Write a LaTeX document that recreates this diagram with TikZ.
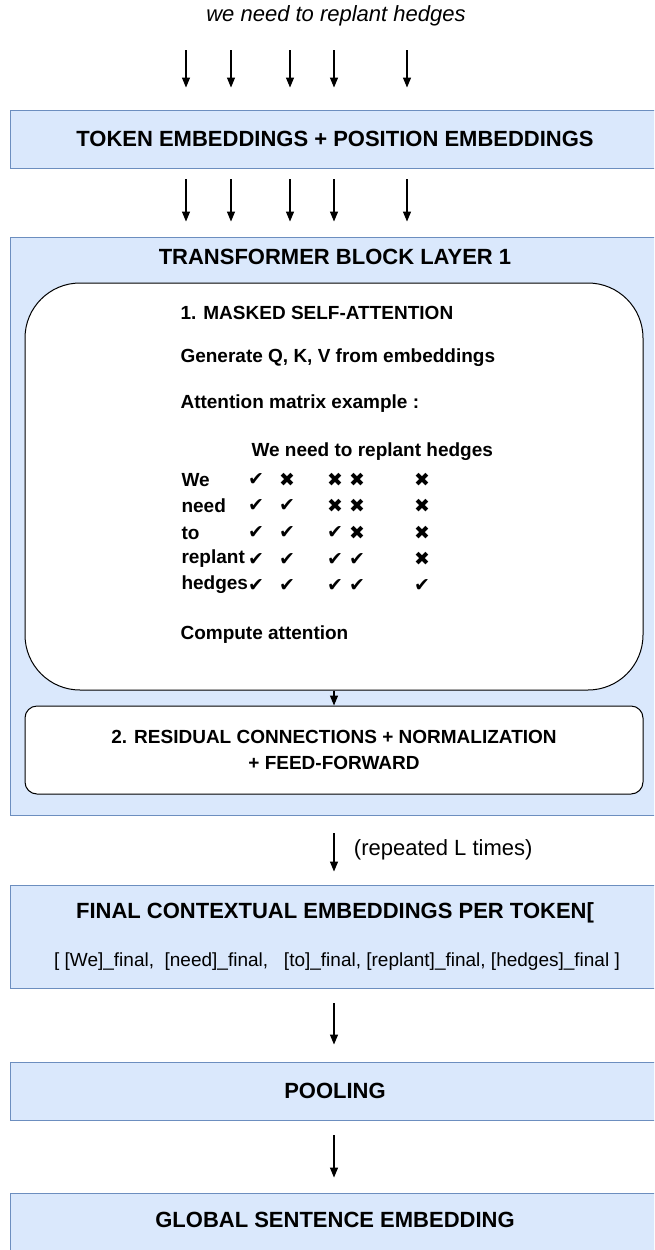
\documentclass[tikz,border=0pt]{standalone}
\usepackage{fontspec}
\setmainfont{Liberation Sans}
\newfontfamily\symfont{DejaVu Sans}
\usetikzlibrary{arrows.meta}
\definecolor{boxfill}{HTML}{DAE8FC}
\definecolor{boxline}{HTML}{6C8EBF}
\tikzset{
  bluebox/.style={draw=boxline,fill=boxfill,line width=0.9pt,minimum width=650pt,inner sep=0pt},
  whitebox/.style={draw=black,fill=white,line width=1pt,minimum width=618pt,inner sep=0pt},
  big/.style={font=\fontsize{22}{26}\selectfont},
  small/.style={font=\fontsize{19}{23}\selectfont},
  arr/.style={-{Triangle[length=10pt,width=8pt]},line width=1.2pt},
}
\begin{document}
\begin{tikzpicture}[x=1pt,y=-1pt]
\clip (0,0) rectangle (654,1250);
\fill[white] (0,0) rectangle (654,1250);

\node[big,font=\fontsize{22}{26}\selectfont\itshape] (sent) at (336,16){we need to replant hedges};

\node[bluebox,minimum height=58pt] (tok) at (335,139){};
\node[big,font=\fontsize{22}{26}\selectfont\bfseries] at (tok){TOKEN EMBEDDINGS + POSITION EMBEDDINGS};

\node[bluebox,minimum height=578pt] (tfm) at (335,526){};
\node[big,font=\fontsize{22}{26}\selectfont\bfseries] (tfmt) at (335,257){TRANSFORMER BLOCK LAYER 1};

\node[whitebox,rounded corners=55pt,minimum height=407pt] (att) at (334,486.5){};
\node[small,font=\fontsize{19}{23}\selectfont\bfseries,anchor=west] (att1) at (177,313){1. MASKED SELF-ATTENTION};
\node[small,font=\fontsize{19}{23}\selectfont\bfseries,anchor=west] (att2) at (177,358){Generate Q, K, V from embeddings};
\node[small,font=\fontsize{19}{23}\selectfont\bfseries,anchor=west] (att3) at (177,404){Attention matrix example :};
\node[small,font=\fontsize{19}{23}\selectfont\bfseries,anchor=west] (hdr) at (248,452){We need to replant hedges};
\foreach \w/\y/\a/\b/\c/\d/\e in {We/480/✔/✖/✖/✖/✖,need/506/✔/✔/✖/✖/✖,to/533/✔/✔/✔/✖/✖,replant/559/✔/✔/✔/✔/✖,hedges/585/✔/✔/✔/✔/✔}{
  \node[small,font=\fontsize{19}{23}\selectfont\bfseries,anchor=west] (r-\w) at (178,\y){\w};
  \foreach \m/\x [count=\k] in {\a/256,\b/287,\c/335,\d/357,\e/422}
    \node[font=\fontsize{19}{22}\symfont] (m-\w-\k) at (\x,\y){\m};
}
\node[small,font=\fontsize{19}{23}\selectfont\bfseries,anchor=west] (att4) at (177,635){Compute attention};

\node[whitebox,rounded corners=12pt,minimum height=88pt,align=center,font=\fontsize{19}{26}\selectfont\bfseries] (res) at (334,750){2. RESIDUAL CONNECTIONS + NORMALIZATION\\+ FEED-FORWARD};

\node[bluebox,minimum height=103pt] (fin) at (335,936.5){};
\node[big,font=\fontsize{22}{26}\selectfont\bfseries] (fint) at (335,913){FINAL CONTEXTUAL EMBEDDINGS PER TOKEN[};
\node[small] (finl) at (337,962){[ [We]\_final,\ \ [need]\_final,\ \ \ [to]\_final, [replant]\_final, [hedges]\_final ]};

\node[bluebox,minimum height=58pt] (pool) at (335,1091){};
\node[big,font=\fontsize{22}{26}\selectfont\bfseries] at (pool){POOLING};

\node[bluebox,minimum height=58pt] (glob) at (335,1222){};
\node[big,font=\fontsize{22}{26}\selectfont\bfseries] at (335,1220){GLOBAL SENTENCE EMBEDDING};

% token arrows
\foreach \x [count=\i] in {186,231,290,334,407}{
  \coordinate (a\i) at (\x,50);
  \draw[arr,shorten >=22pt] (a\i) -- (a\i |- tok.north);
  \draw[arr,shorten <=11pt,shorten >=15pt] (a\i |- tok.south) -- (a\i |- tfm.north);
}
\draw[arr] (att.south) -- (res.north);
\draw[arr,shorten <=18pt,shorten >=13pt] (tfm.south -| att.south) -- node[right,xshift=16pt,font=\fontsize{22}{26}\selectfont]{(repeated L times)} (fin.north -| att.south);
\draw[arr,shorten <=15pt,shorten >=17pt] (fin.south -| att.south) -- (pool.north -| att.south);
\draw[arr,shorten <=15pt,shorten >=15pt] (pool.south -| att.south) -- (glob.north -| att.south);
\end{tikzpicture}
\end{document}
